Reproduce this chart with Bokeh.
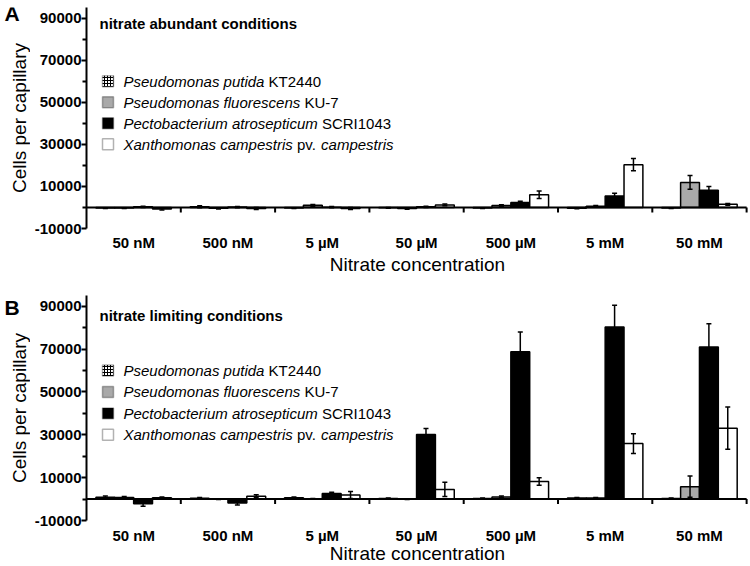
from bokeh.plotting import figure
from bokeh.models import Range1d, FixedTicker, Label, BoxAnnotation, Whisker, TeeHead, ColumnDataSource
from bokeh.layouts import column, row
from bokeh.embed import file_html
from bokeh.resources import INLINE
import math

# ---------------- data ----------------
categories = ["50 nM", "500 nM", "5 µM", "50 µM", "500 µM", "5 mM", "50 mM"]

# panel A: nitrate abundant conditions
putida_A = [-300, 300, -300, -200, -300, -400, -300]
fluor_A = [-300, -400, 1000, -500, 900, 600, 11900]
atro_A = [300, 200, 100, 300, 2400, 5500, 8200]
camp_A = [-700, -500, -500, 1200, 6000, 20300, 1500]
putida_A_err = [200, 500, 200, 200, 200, 200, 200]
fluor_A_err = [200, 300, 400, 300, 400, 300, 3300]
atro_A_err = [300, 300, 300, 300, 500, 1300, 1700]
camp_A_err = [500, 500, 500, 400, 1800, 2900, 400]

# panel B: nitrate limiting conditions
putida_B = [900, 400, 600, 300, 300, 500, 300]
fluor_B = [700, 0, 100, 0, 1000, 500, 5800]
atro_B = [-2200, -1800, 2600, 30100, 68800, 80300, 71000]
camp_B = [600, 1300, 1900, 4500, 8200, 25900, 33100]
putida_B_err = [500, 300, 400, 200, 200, 200, 200]
fluor_B_err = [500, 200, 200, 200, 400, 200, 5000]
atro_B_err = [1200, 1000, 600, 2800, 9200, 10100, 10800]
camp_B_err = [400, 700, 1600, 3300, 1700, 4600, 9900]

y_major = [-10000, 10000, 30000, 50000, 70000, 90000]
y_major_labels = ["-10000", "10000", "30000", "50000", "70000", "90000"]
y_minor = [0, 20000, 40000, 60000, 80000]

legend_rows = [
    [("Pseudomonas putida", "italic"), ("KT2440", "normal")],
    [("Pseudomonas fluorescens", "italic"), ("KU-7", "normal")],
    [("Pectobacterium atrosepticum", "italic"), ("SCRI1043", "normal")],
    [("Xanthomonas campestris", "italic"), ("pv.", "normal"), ("campestris", "italic")],
]
legend_levels = [60000, 50000, 40000, 30000]

# ---------------- style ----------------
FONT = "Liberation Sans"
styles = [
    dict(fill_color="white", hatch_pattern="+", hatch_color="black", hatch_scale=3.0, hatch_weight=1.0),
    dict(fill_color="#a9a9a9"),
    dict(fill_color="black"),
    dict(fill_color="white"),
]
offsets = [-0.3, -0.1, 0.1, 0.3]
BAR_W = 0.2

W = {' ': 278, 'a': 556, 'b': 556, 'c': 500, 'd': 556, 'e': 556, 'f': 278, 'g': 556, 'h': 556,
     'i': 222, 'j': 222, 'k': 500, 'l': 222, 'm': 833, 'n': 556, 'o': 556, 'p': 556, 'q': 556,
     'r': 333, 's': 500, 't': 278, 'u': 556, 'v': 500, 'w': 722, 'x': 500, 'y': 500, 'z': 500,
     'P': 667, 'X': 667, 'K': 667, 'T': 611, 'U': 722, 'S': 667, 'C': 722, 'R': 722, 'I': 278,
     '-': 333, '.': 278}


def tw(s, size):
    return sum(W.get(c, 556) for c in s) * size / 1000.0


Y0, Y1 = -10000, 95000
SIDE_W = 30
MAIN_W = 720


def make_side(letter, height, top_b, bot_b, frame_h, letter_up):
    s = figure(width=SIDE_W, height=height, output_backend="svg", toolbar_location=None,
               x_axis_location=None, y_axis_location=None, title=None,
               x_range=Range1d(0, 1), y_range=Range1d(Y0, Y1),
               min_border_left=0, min_border_right=0, min_border_top=top_b, min_border_bottom=bot_b)
    s.outline_line_color = None
    s.xgrid.visible = False
    s.ygrid.visible = False
    px_per_unit = frame_h / (Y1 - Y0)
    s.add_layout(Label(x=4, y=Y1 + letter_up / px_per_unit, x_units="screen", y_units="data", text=letter,
                       text_font=FONT, text_font_style="bold", text_font_size="21px",
                       text_baseline="top", text_align="left", text_color="black"))
    s.add_layout(Label(x=19, y=(Y0 + Y1) / 2, x_units="screen", y_units="data",
                       text="Cells per capillary", angle=math.pi / 2,
                       text_font=FONT, text_font_style="normal", text_font_size="19px",
                       text_baseline="middle", text_align="center", text_color="black"))
    return s


def make_panel(title, title_y, series, errs, height, top_b, bot_b, frame_h, lab_so, title_so):
    p = figure(width=MAIN_W, height=height, output_backend="svg", toolbar_location=None,
               x_range=Range1d(0, 7.02), y_range=Range1d(Y0, Y1),
               min_border_left=56, min_border_right=2, min_border_top=top_b, min_border_bottom=bot_b)
    p.outline_line_color = None
    p.xgrid.visible = False
    p.ygrid.visible = False
    p.background_fill_color = "white"
    p.border_fill_color = "white"

    # y axis
    ya = p.yaxis[0]
    ya.ticker = FixedTicker(ticks=y_major, minor_ticks=y_minor)
    ya.major_label_overrides = {v: lab for v, lab in zip(y_major, y_major_labels)}
    ya.axis_line_width = 2
    ya.axis_line_color = "black"
    ya.major_tick_line_width = 2
    ya.minor_tick_line_width = 2
    ya.major_tick_in = 0
    ya.major_tick_out = 5
    ya.minor_tick_in = 0
    ya.minor_tick_out = 4
    ya.major_label_text_font = FONT
    ya.major_label_text_font_style = "bold"
    ya.major_label_text_font_size = "15px"
    ya.major_label_text_color = "black"
    ya.major_label_standoff = 0

    # x axis (labels only; zero line drawn separately)
    xa = p.xaxis[0]
    centers = [i + 0.5 for i in range(len(categories))]
    xa.ticker = FixedTicker(ticks=centers, minor_ticks=[])
    xa.major_label_overrides = {c: lab for c, lab in zip(centers, categories)}
    xa.axis_line_color = None
    xa.major_tick_line_color = None
    xa.minor_tick_line_color = None
    xa.major_tick_out = 0
    xa.major_tick_in = 0
    xa.major_label_standoff = lab_so
    xa.major_label_text_font = FONT
    xa.major_label_text_font_style = "bold"
    xa.major_label_text_font_size = "15px"
    xa.major_label_text_color = "black"
    xa.axis_label = "Nitrate concentration"
    xa.axis_label_text_font = FONT
    xa.axis_label_text_font_style = "normal"
    xa.axis_label_text_font_size = "19px"
    xa.axis_label_text_color = "black"
    xa.axis_label_standoff = title_so

    px_per_unit = frame_h / (Y1 - Y0)

    # bars
    for vals, off, st in zip(series, offsets, styles):
        xs = [i + 0.5 + off for i in range(len(vals))]
        src = ColumnDataSource(dict(x=xs, top=vals))
        p.vbar(x="x", top="top", bottom=0, width=BAR_W, source=src,
               line_color="black", line_width=1.5, **st)

    # zero line with boundary ticks
    n = len(categories)
    p.segment(x0=[0], y0=[0], x1=[n], y1=[0], line_color="black", line_width=2)
    tick_len = 5 / px_per_unit
    bounds = list(range(1, n + 1))
    p.segment(x0=bounds, y0=[0] * n, x1=bounds, y1=[-tick_len] * n, line_color="black", line_width=2)

    # error bars
    for vals, er, off in zip(series, errs, offsets):
        xs = [i + 0.5 + off for i in range(len(vals))]
        src = ColumnDataSource(dict(x=xs,
                                    upper=[v + e for v, e in zip(vals, er)],
                                    lower=[v - e for v, e in zip(vals, er)]))
        wk = Whisker(source=src, base="x", upper="upper", lower="lower", dimension="height",
                     line_color="black", line_width=1.5, level="annotation",
                     upper_head=TeeHead(size=5, line_width=1.5, line_color="black"),
                     lower_head=TeeHead(size=5, line_width=1.5, line_color="black"))
        p.add_layout(wk)

    # panel title
    p.add_layout(Label(x=13, x_units="screen", y=title_y, y_units="data", text=title,
                       text_font=FONT, text_font_style="bold", text_font_size="15px",
                       text_baseline="middle", text_color="black"))

    # legend
    half = 5.5 / px_per_unit
    for parts, lvl, st in zip(legend_rows, legend_levels, styles):
        box = BoxAnnotation(left=16, right=27, left_units="screen", right_units="screen",
                            top=lvl + half, bottom=lvl - half, line_color="black", line_width=1.5,
                            fill_alpha=1.0, level="annotation", **st)
        p.add_layout(box)
        x = 37
        for txt, fs in parts:
            p.add_layout(Label(x=x, x_units="screen", y=lvl, y_units="data", text=txt,
                               text_font=FONT, text_font_style=fs, text_font_size="15px",
                               text_baseline="middle", text_color="black"))
            x += tw(txt + " ", 15)
    return p


HA, HB = 280, 286
pA = make_panel("nitrate abundant conditions", 87400,
                [putida_A, fluor_A, atro_A, camp_A],
                [putida_A_err, fluor_A_err, atro_A_err, camp_A_err],
                height=HA, top_b=7, bot_b=52, frame_h=221, lab_so=5, title_so=0)
pB = make_panel("nitrate limiting conditions", 85500,
                [putida_B, fluor_B, atro_B, camp_B],
                [putida_B_err, fluor_B_err, atro_B_err, camp_B_err],
                height=HB, top_b=15, bot_b=45, frame_h=226, lab_so=6, title_so=-4)
sA = make_side("A", HA, 7, 52, 221, 6)
sB = make_side("B", HB, 15, 45, 226, 0)

layout = column(row(sA, pA, spacing=0), row(sB, pB, spacing=0), spacing=0)
open("out.html", "w").write(file_html(layout, INLINE))
